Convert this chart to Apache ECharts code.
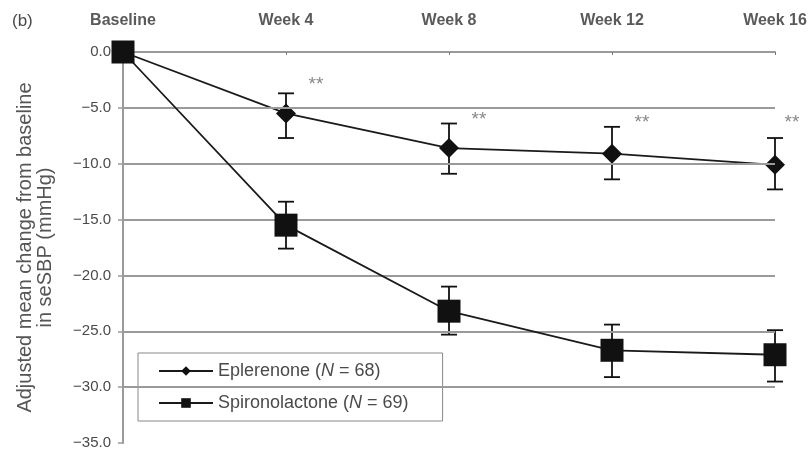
<!DOCTYPE html>
<html><head><meta charset="utf-8">
<script src="https://cdn.jsdelivr.net/npm/echarts@6/dist/echarts.min.js"></script>
<style>html,body{margin:0;padding:0;background:#fff}#c{width:810px;height:452px}</style>
</head><body><div id="c"></div>
<script>
var categories = ['Baseline', 'Week 4', 'Week 8', 'Week 12', 'Week 16'];
var eplName = 'Eplerenone (N = 68)';
var spiName = 'Spironolactone (N = 69)';
var eplMean = [0, -5.5, -8.6, -9.1, -10.1];
var eplLow  = [null, -7.7, -10.9, -11.4, -12.3];
var eplHigh = [null, -3.7, -6.4, -6.7, -7.7];
var spiMean = [0, -15.5, -23.2, -26.7, -27.1];
var spiLow  = [null, -17.6, -25.3, -29.1, -29.5];
var spiHigh = [null, -13.4, -21.0, -24.4, -24.9];
var starY = [null, -2.9, -6.05, -6.3, -6.3];
var starText = '**';
var gridValues = [-5, -10, -15, -20, -25, -30];
var yAxisTitle = 'Adjusted mean change from baseline\nin seSBP (mmHg)';
var panelLabel = '(b)';

var chart = echarts.init(document.getElementById('c'));
var FONT = 'Liberation Sans, Arial, sans-serif';
var TXT = '#4a4a4a';
var GRID = '#9a9a9a';

function errData(lo, hi) {
  var d = [];
  for (var i = 0; i < categories.length; i++) {
    if (lo[i] != null) d.push([i, lo[i], hi[i]]);
  }
  return d;
}
function renderErr(params, api) {
  var x = api.value(0);
  var p1 = api.coord([x, api.value(1)]);
  var p2 = api.coord([x, api.value(2)]);
  var hw = 8;
  var st = { stroke: '#111', lineWidth: 1.8 };
  return { type: 'group', children: [
    { type: 'line', shape: { x1: p1[0], y1: p1[1], x2: p2[0], y2: p2[1] }, style: st },
    { type: 'line', shape: { x1: p1[0] - hw, y1: p1[1], x2: p1[0] + hw, y2: p1[1] }, style: st },
    { type: 'line', shape: { x1: p2[0] - hw, y1: p2[1], x2: p2[0] + hw, y2: p2[1] }, style: st }
  ]};
}
var starData = [];
for (var i = 0; i < categories.length; i++) {
  if (starY[i] != null) {
    starData.push({ value: [i, starY[i]], label: { offset: i === categories.length - 1 ? [17, 0] : [30, 0] } });
  }
}

var option = {
  animation: false,
  textStyle: { fontFamily: FONT },
  graphic: [{ type: 'text', left: 12, top: 13, style: { text: panelLabel, font: '17px ' + FONT, fill: TXT } }],
  grid: { left: 123, right: 35, top: 52, bottom: 9 },
  legend: {
    data: [eplName, spiName],
    orient: 'vertical', left: 138, top: 353,
    padding: [9, 34, 9, 20], itemGap: 14,
    itemWidth: 54, itemHeight: 12,
    borderColor: '#888', borderWidth: 1, borderRadius: 0,
    formatter: function (n) { return '{t|' + n.replace('N', '}{i|N}{t|') + '}'; },
    textStyle: { fontSize: 18, color: TXT, rich: {
      t: { fontSize: 18, color: TXT, fontFamily: FONT },
      i: { fontSize: 18, color: TXT, fontStyle: 'italic', fontFamily: FONT }
    } }
  },
  xAxis: {
    type: 'category', data: categories, position: 'top', boundaryGap: false,
    axisLine: { lineStyle: { color: GRID, width: 2 } },
    axisTick: { inside: true, length: 3, lineStyle: { color: '#777' } },
    axisLabel: { margin: 23, fontSize: 16, fontWeight: 'bold', color: '#5a5a5a', fontFamily: FONT },
    splitLine: { show: false }
  },
  yAxis: {
    type: 'value', min: -35, max: 0, interval: 5,
    name: yAxisTitle, nameLocation: 'middle', nameRotate: 90, nameGap: 68,
    nameTextStyle: { fontSize: 20, lineHeight: 20, color: '#555', fontFamily: FONT },
    axisLine: { show: true, lineStyle: { color: GRID, width: 2 } },
    axisTick: { show: true, length: 5, lineStyle: { color: GRID, width: 1.5 } },
    axisLabel: { margin: 12, fontSize: 15, color: TXT, fontFamily: FONT,
      formatter: function (v) { return (v < 0 ? '\u2212' : '') + Math.abs(v).toFixed(1); } },
    splitLine: { show: false }
  },
  series: [
    { type: 'custom', name: 'eplErr', renderItem: renderErr, data: errData(eplLow, eplHigh), z: 3, silent: true,
      markLine: { silent: true, symbol: 'none', label: { show: false },
        lineStyle: { color: GRID, width: 2, type: 'solid' },
        data: gridValues.map(function (v) { return { yAxis: v }; }) } },
    { type: 'custom', name: 'spiErr', renderItem: renderErr, data: errData(spiLow, spiHigh), z: 3, silent: true },
    { type: 'line', name: eplName, data: eplMean, symbol: 'diamond', symbolSize: 20,
      lineStyle: { color: '#1a1a1a', width: 1.8 }, itemStyle: { color: '#111' }, z: 4 },
    { type: 'line', name: spiName, data: spiMean, symbol: 'rect', symbolSize: 23,
      lineStyle: { color: '#1a1a1a', width: 1.8 }, itemStyle: { color: '#111' }, z: 5 },
    { type: 'scatter', name: 'stars', data: starData, symbolSize: 0, silent: true,
      label: { show: true, position: 'inside', formatter: starText, fontSize: 19, color: '#6a6a6a', fontFamily: FONT } }
  ]
};
chart.setOption(option);
</script></body></html>
